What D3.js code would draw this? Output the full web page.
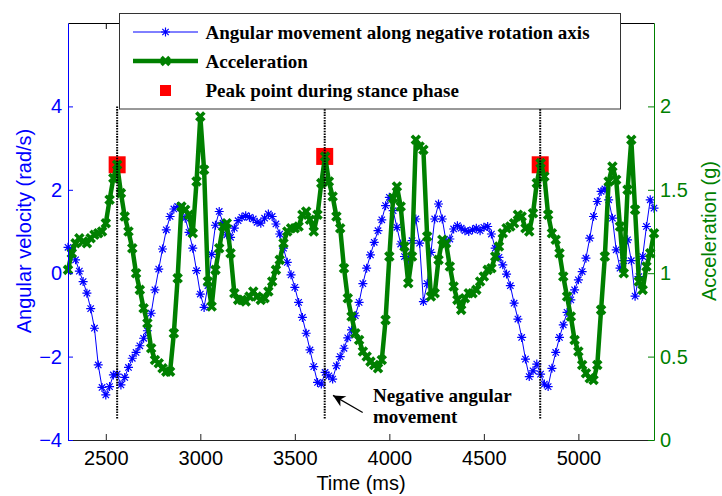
<!DOCTYPE html>
<html>
<head>
<meta charset="utf-8">
<script src="https://cdn.jsdelivr.net/npm/d3@7"></script>
<style>
  body { margin: 0; background: #fff; }
  svg { display: block; }
</style>
</head>
<body>
<div id="chart"></div>
<script>
// sample times (ms), 20 ms steps
var times = [2300,2320,2340,2360,2380,2400,2420,2440,2460,2480,2500,2520,2540,2560,2580,2600,2620,2640,2660,2680,
  2700,2720,2740,2760,2780,2800,2820,2840,2860,2880,2900,2920,2940,2960,2980,3000,3020,3040,3060,3080,
  3100,3120,3140,3160,3180,3200,3220,3240,3260,3280,3300,3320,3340,3360,3380,3400,3420,3440,3460,3480,
  3500,3520,3540,3560,3580,3600,3620,3640,3660,3680,3700,3720,3740,3760,3780,3800,3820,3840,3860,3880,
  3900,3920,3940,3960,3980,4000,4020,4040,4060,4080,4100,4120,4140,4160,4180,4200,4220,4240,4260,4280,
  4300,4320,4340,4360,4380,4400,4420,4440,4460,4480,4500,4520,4540,4560,4580,4600,4620,4640,4660,4680,
  4700,4720,4740,4760,4780,4800,4820,4840,4860,4880,4900,4920,4940,4960,4980,5000,5020,5040,5060,5080,
  5100,5120,5140,5160,5180,5200,5220,5240,5260,5280,5300,5320,5340,5360,5380,5400];

// angular velocity (rad/s)
var angular = [0.62,0.56,0.32,0.05,-0.2,-0.48,-0.85,-1.32,-2.2,-2.74,-2.92,-2.72,-2.44,-2.42,-2.68,-2.5,-2.26,-2.04,-1.9,-1.74,
  -1.56,-1.38,-0.96,-0.4,0.1,0.58,1.04,1.36,1.54,1.6,1.56,1.32,0.98,0.6,0.06,-0.5,-0.82,-0.3,0.45,1.15,
  1.48,1.2,0.92,0.86,1.08,1.26,1.34,1.38,1.34,1.3,1.22,1.2,1.32,1.42,1.36,1.18,0.94,0.6,0.26,-0.04,
  -0.34,-0.7,-1.06,-1.44,-1.84,-2.24,-2.62,-2.66,-2.38,-2.46,-2.54,-2.22,-2.0,-1.8,-1.55,-1.36,-1.02,-0.7,-0.25,0.12,
  0.44,0.74,1.02,1.28,1.62,1.82,1.5,1.1,0.7,0.4,0.32,0.78,1.3,0.72,-0.68,-0.25,0.5,1.3,1.66,1.3,
  0.76,0.82,1.06,1.14,1.08,1.02,1.0,1.04,1.08,1.02,1.1,1.12,0.94,0.6,0.38,0.2,-0.02,-0.3,-0.72,-1.1,
  -1.54,-2.06,-2.48,-2.34,-2.18,-2.42,-2.66,-2.72,-2.28,-1.9,-1.54,-1.24,-0.94,-0.64,-0.4,-0.16,0.04,0.36,0.84,1.36,
  1.72,1.96,2.02,1.76,1.32,0.56,0.12,0.3,0.8,0.3,-0.55,-0.08,0.4,1.12,1.76,1.56];

// acceleration (g)
var accel = [1.02,1.12,1.18,1.21,1.19,1.18,1.21,1.23,1.24,1.25,1.3,1.44,1.57,1.65,1.48,1.34,1.25,1.15,1.0,0.9,
  0.79,0.7,0.55,0.48,0.46,0.43,0.41,0.41,0.64,0.97,1.4,1.38,1.35,1.24,1.55,1.94,1.62,0.95,0.8,1.02,
  1.15,1.28,1.3,1.12,0.88,0.84,0.84,0.83,0.86,0.89,0.86,0.84,0.85,0.89,0.95,1.02,1.08,1.18,1.25,1.27,
  1.27,1.28,1.35,1.37,1.32,1.25,1.35,1.54,1.7,1.55,1.46,1.34,1.27,1.03,0.85,0.74,0.64,0.6,0.53,0.5,
  0.47,0.45,0.43,0.48,0.72,1.1,1.45,1.52,1.4,1.16,0.94,1.1,1.8,1.76,1.74,1.22,0.86,0.88,1.08,1.2,
  1.18,1.04,0.92,0.84,0.78,0.85,0.88,0.88,0.9,0.95,0.98,1.02,1.03,1.1,1.16,1.24,1.27,1.28,1.3,1.35,
  1.34,1.27,1.25,1.36,1.54,1.66,1.58,1.35,1.24,1.2,1.12,0.98,0.86,0.74,0.6,0.53,0.45,0.4,0.37,0.36,
  0.45,0.78,1.1,1.55,1.64,1.56,1.28,1.0,1.5,1.8,1.38,0.95,0.9,1.04,1.12,1.24];

// peak points during stance phase
var peakTimes = [2560, 3658, 4798];
var peakAccel = [1.65, 1.70, 1.65];

var xTicks = [2500, 3000, 3500, 4000, 4500, 5000];
var leftTicks = [-4, -2, 0, 2, 4];
var rightTicks = [0, 0.5, 1, 1.5, 2];

var legendLabels = ["Angular movement along negative rotation axis", "Acceleration", "Peak point during stance phase"];

var blue = "#0000ff", green = "#008000", red = "#ff0000";

var W = 722, H = 496;
var svg = d3.select("#chart").append("svg").attr("width", W).attr("height", H);

var x = d3.scaleLinear().domain([2300, 5400]).range([68, 654]);
var yL = d3.scaleLinear().domain([-4, 6]).range([440, 23]);
var yR = d3.scaleLinear().domain([0, 2.5]).range([440, 23]);

var angData = times.map(function(t, i) { return {t: t, v: angular[i]}; });
var accData = times.map(function(t, i) { return {t: t, v: accel[i]}; });
var peakData = peakTimes.map(function(t, i) { return {t: t, v: peakAccel[i]}; });

var star = "M0,-4.5V4.5M-4.5,0H4.5M-3.2,-3.2L3.2,3.2M-3.2,3.2L3.2,-3.2";
var cross = "M-4,-4L4,4M-4,4L4,-4";

// angular velocity
svg.append("path").datum(angData)
  .attr("fill", "none").attr("stroke", blue).attr("stroke-width", 1)
  .attr("d", d3.line().x(function(d) { return x(d.t); }).y(function(d) { return yL(d.v); }));
svg.append("g").selectAll("path").data(angData).enter().append("path")
  .attr("d", star)
  .attr("transform", function(d) { return "translate(" + x(d.t) + "," + yL(d.v) + ")"; })
  .attr("stroke", blue).attr("stroke-width", 1.2).attr("fill", "none");

// peak squares
svg.append("g").selectAll("rect").data(peakData).enter().append("rect")
  .attr("x", function(d) { return x(d.t) - 8.5; })
  .attr("y", function(d) { return yR(d.v) - 8.5; })
  .attr("width", 17).attr("height", 17)
  .attr("fill", red);

// acceleration
svg.append("path").datum(accData)
  .attr("fill", "none").attr("stroke", green).attr("stroke-width", 4.5)
  .attr("stroke-linejoin", "round")
  .attr("d", d3.line().x(function(d) { return x(d.t); }).y(function(d) { return yR(d.v); }));
svg.append("g").selectAll("path").data(accData).enter().append("path")
  .attr("d", cross)
  .attr("transform", function(d) { return "translate(" + x(d.t) + "," + yR(d.v) + ")"; })
  .attr("stroke", green).attr("stroke-width", 3.6).attr("fill", "none");

// dotted markers of the peaks
svg.append("g").selectAll("line").data(peakData).enter().append("line")
  .attr("x1", function(d) { return x(d.t); }).attr("x2", function(d) { return x(d.t); })
  .attr("y1", yL(4)).attr("y2", yL(-3.5))
  .attr("stroke", "#000").attr("stroke-width", 2).attr("stroke-dasharray", "1.6,1.1");

// axes
function styleAxis(g, color) {
  g.selectAll("path.domain").attr("stroke", color);
  g.selectAll(".tick line").attr("stroke", color);
  g.selectAll(".tick text").attr("fill", color);
  g.attr("font-family", "'Liberation Sans', Arial, sans-serif").attr("font-size", 20);
}

var gx = svg.append("g").attr("transform", "translate(0,440)")
  .call(d3.axisBottom(x).tickValues(xTicks).tickSizeInner(-6).tickSizeOuter(0).tickPadding(11).tickFormat(d3.format("d")));
styleAxis(gx, "#222");
gx.selectAll(".tick text").attr("fill", "#000");

var gxt = svg.append("g").attr("transform", "translate(0,23)")
  .call(d3.axisTop(x).tickValues(xTicks).tickSizeInner(-6).tickSizeOuter(0).tickFormat(""));
styleAxis(gxt, "#000");

var gl = svg.append("g").attr("transform", "translate(68,0)")
  .call(d3.axisLeft(yL).tickValues(leftTicks).tickSizeInner(-5).tickSizeOuter(0).tickPadding(6).tickFormat(d3.format("d")));
styleAxis(gl, blue);

var gr = svg.append("g").attr("transform", "translate(654,0)")
  .call(d3.axisRight(yR).tickValues(rightTicks).tickSizeInner(-6).tickSizeOuter(0).tickPadding(6).tickFormat(function(d) { return d; }));
styleAxis(gr, green);

// axis titles
svg.append("text").attr("x", 361).attr("y", 490).attr("text-anchor", "middle")
  .attr("font-family", "'Liberation Sans', Arial, sans-serif").attr("font-size", 20)
  .text("Time (ms)");
svg.append("text").attr("transform", "translate(31,231) rotate(-90)").attr("text-anchor", "middle")
  .attr("font-family", "'Liberation Sans', Arial, sans-serif").attr("font-size", 20).attr("fill", blue)
  .text("Angular velocity (rad/s)");
svg.append("text").attr("transform", "translate(716,231) rotate(-90)").attr("text-anchor", "middle")
  .attr("font-family", "'Liberation Sans', Arial, sans-serif").attr("font-size", 20).attr("fill", green)
  .text("Acceleration (g)");

// annotation
var serif = "'Liberation Serif', 'Times New Roman', serif";
var note = svg.append("text").attr("font-family", serif).attr("font-weight", "bold").attr("font-size", 19);
note.append("tspan").attr("x", 373).attr("y", 402).text("Negative angular");
note.append("tspan").attr("x", 373).attr("y", 423).text("movement");

svg.append("defs").append("marker").attr("id", "head")
  .attr("viewBox", "0 0 10 10").attr("refX", 10).attr("refY", 5)
  .attr("markerWidth", 16).attr("markerHeight", 12).attr("markerUnits", "userSpaceOnUse")
  .attr("orient", "auto")
  .append("path").attr("d", "M0,0L10,5L0,10L3,5Z").attr("fill", "#000");
svg.append("line")
  .attr("x1", x(3859)).attr("y1", yL(-3.34)).attr("x2", x(3702)).attr("y2", yL(-2.93))
  .attr("stroke", "#000").attr("stroke-width", 1.2).attr("marker-end", "url(#head)");

// legend
var lg = svg.append("g");
lg.append("rect").attr("x", 119.5).attr("y", 13.5).attr("width", 501).attr("height", 95.5)
  .attr("fill", "#fff").attr("stroke", "#333").attr("stroke-width", 1);
var rowY = [32, 61, 90.5];
lg.append("line").attr("x1", 133).attr("x2", 198).attr("y1", rowY[0]).attr("y2", rowY[0])
  .attr("stroke", blue).attr("stroke-width", 1);
lg.append("path").attr("d", star).attr("transform", "translate(165.5," + rowY[0] + ")")
  .attr("stroke", blue).attr("stroke-width", 1.2).attr("fill", "none");
lg.append("line").attr("x1", 133).attr("x2", 198).attr("y1", rowY[1]).attr("y2", rowY[1])
  .attr("stroke", green).attr("stroke-width", 4.5);
lg.append("path").attr("d", cross).attr("transform", "translate(165.5," + rowY[1] + ")")
  .attr("stroke", green).attr("stroke-width", 3.6).attr("fill", "none");
lg.append("rect").attr("x", 160).attr("y", rowY[2] - 5.5).attr("width", 11).attr("height", 11).attr("fill", red);
lg.selectAll("text.lab").data(legendLabels).enter().append("text").attr("class", "lab")
  .attr("x", 205.5).attr("y", function(d, i) { return rowY[i] + 6.5; })
  .attr("font-family", serif).attr("font-weight", "bold").attr("font-size", 19)
  .text(function(d) { return d; });
</script>
</body>
</html>
